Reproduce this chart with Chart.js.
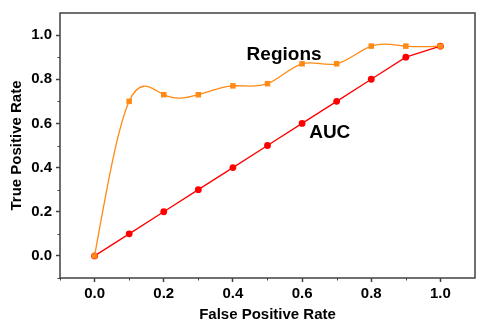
<!DOCTYPE html>
<html><head><meta charset="utf-8">
<script src="https://cdn.jsdelivr.net/npm/chart.js@4/dist/chart.umd.min.js"></script>
<style>html,body{margin:0;padding:0;background:#fff}#wrap{width:480px;height:332px;position:relative}</style>
</head><body><div id="wrap"><canvas id="c" width="480" height="332"></canvas></div>
<script>
// ---- data ----
const fpr = [0.0, 0.1, 0.2, 0.3, 0.4, 0.5, 0.6, 0.7, 0.8, 0.9, 1.0];
const aucTpr = [0.0, 0.1, 0.2, 0.3, 0.4, 0.5, 0.6, 0.7, 0.8, 0.9, 0.95];
const regionsTpr = [0.0, 0.70, 0.73, 0.73, 0.77, 0.78, 0.87, 0.87, 0.95, 0.95, 0.95];
const seriesNames = ['Regions', 'AUC'];
const xMajorTicks = [0.0, 0.2, 0.4, 0.6, 0.8, 1.0];
const yMajorTicks = [0.0, 0.2, 0.4, 0.6, 0.8, 1.0];
const minorTicks = [-0.1, 0.1, 0.3, 0.5, 0.7, 0.9];
const xTitle = 'False Positive Rate';
const yTitle = 'True Positive Rate';

// ---- styling / layout ----
const FONT = "'Liberation Sans', Arial, sans-serif";
const ORANGE = '#FF8A14';
const RED = '#FF0000';
const FRAME = '#404040';
const labelAnchors = [{x: 0.548, y: 0.888}, {x: 0.68, y: 0.533}];

const splinePlugin = {
  id: 'naturalSpline',
  beforeDatasetDraw(chart, args) {
    const ds = chart.data.datasets[args.index];
    if (!ds.naturalSpline) return;
    const pts = args.meta.data.map(p => ({x: p.x, y: p.y}));
    const n = pts.length;
    const h = [], M = new Array(n).fill(0);
    for (let i = 0; i < n - 1; i++) h[i] = pts[i + 1].x - pts[i].x;
    const a = [], b = [], c = [], d = [], cp = [], dp = [];
    for (let i = 1; i < n - 1; i++) {
      a[i] = h[i - 1]; b[i] = 2 * (h[i - 1] + h[i]); c[i] = h[i];
      d[i] = 6 * ((pts[i + 1].y - pts[i].y) / h[i] - (pts[i].y - pts[i - 1].y) / h[i - 1]);
    }
    for (let i = 1; i < n - 1; i++) {
      const m = b[i] - (i > 1 ? a[i] * cp[i - 1] : 0);
      cp[i] = c[i] / m;
      dp[i] = (d[i] - (i > 1 ? a[i] * dp[i - 1] : 0)) / m;
    }
    for (let i = n - 2; i >= 1; i--) M[i] = dp[i] - (i < n - 2 ? cp[i] * M[i + 1] : 0);
    const ctx = chart.ctx;
    ctx.save();
    ctx.strokeStyle = ds.borderColor;
    ctx.lineWidth = ds.borderWidth;
    ctx.lineJoin = 'round';
    ctx.beginPath();
    ctx.moveTo(pts[0].x, pts[0].y);
    for (let i = 0; i < n - 1; i++) {
      const hh = h[i];
      const sl = (pts[i + 1].y - pts[i].y) / hh;
      const m0 = sl - hh * (2 * M[i] + M[i + 1]) / 6;
      const m1 = sl + hh * (M[i] + 2 * M[i + 1]) / 6;
      ctx.bezierCurveTo(pts[i].x + hh / 3, pts[i].y + m0 * hh / 3,
                        pts[i + 1].x - hh / 3, pts[i + 1].y - m1 * hh / 3,
                        pts[i + 1].x, pts[i + 1].y);
    }
    ctx.stroke();
    ctx.restore();
  }
};

const framePlugin = {
  id: 'frame',
  beforeDatasetsDraw(chart) {
    const {ctx, chartArea: ca, scales} = chart;
    ctx.save();
    ctx.strokeStyle = FRAME;
    ctx.lineWidth = 1.5;
    ctx.strokeRect(ca.left, ca.top, ca.right - ca.left, ca.bottom - ca.top);
    ctx.lineWidth = 1;
    ctx.beginPath();
    minorTicks.forEach(v => {
      const px = Math.round(scales.x.getPixelForValue(v)) + 0.5;
      ctx.moveTo(px, ca.bottom); ctx.lineTo(px, ca.bottom + 2.5);
      const py = Math.round(scales.y.getPixelForValue(v)) + 0.5;
      ctx.moveTo(ca.left, py); ctx.lineTo(ca.left - 2.5, py);
    });
    ctx.stroke();
    ctx.restore();
  },
  afterDatasetsDraw(chart) {
    const {ctx, scales} = chart;
    ctx.save();
    ctx.fillStyle = '#000';
    ctx.font = "bold 19px " + FONT;
    ctx.textAlign = 'center';
    ctx.textBaseline = 'alphabetic';
    seriesNames.forEach((t, i) => {
      ctx.fillText(t, scales.x.getPixelForValue(labelAnchors[i].x), scales.y.getPixelForValue(labelAnchors[i].y));
    });
    ctx.restore();
  }
};

const tickFont = {family: FONT, weight: 'bold', size: 15};

new Chart(document.getElementById('c'), {
  type: 'line',
  data: {
    datasets: [
      {
        label: seriesNames[0],
        data: fpr.map((x, i) => ({x, y: regionsTpr[i]})),
        borderColor: ORANGE, backgroundColor: ORANGE, borderWidth: 1.3,
        showLine: false, naturalSpline: true,
        pointStyle: 'rect', pointRadius: 3.9, pointBorderWidth: 0
      },
      {
        label: seriesNames[1],
        data: fpr.map((x, i) => ({x, y: aucTpr[i]})),
        borderColor: RED, backgroundColor: RED, borderWidth: 1.3,
        tension: 0, pointStyle: 'circle', pointRadius: 3.4, pointBorderWidth: 0
      }
    ]
  },
  options: {
    responsive: false, animation: false, devicePixelRatio: 1,
    layout: {padding: {top: 11, right: 5, left: 0, bottom: 0}},
    plugins: {legend: {display: false}, tooltip: {enabled: false}},
    scales: {
      x: {
        type: 'linear', min: -0.1, max: 1.1,
        afterBuildTicks: s => { s.ticks = xMajorTicks.map(v => ({value: v})); },
        afterFit: s => { s.height = 54; },
        ticks: {callback: v => Number(v).toFixed(1), font: tickFont, color: '#000', padding: 3, maxRotation: 0, autoSkip: false},
        grid: {drawOnChartArea: false, drawTicks: true, tickLength: 4, tickColor: FRAME, tickWidth: 1.5},
        border: {display: false},
        title: {display: true, text: xTitle, font: tickFont, color: '#000', padding: {top: 0, bottom: 8}}
      },
      y: {
        type: 'linear', min: -0.1, max: 1.1,
        afterBuildTicks: s => { s.ticks = yMajorTicks.map(v => ({value: v})); },
        afterFit: s => { s.width = 60; },
        ticks: {callback: v => Number(v).toFixed(1), font: tickFont, color: '#000', padding: 4, autoSkip: false},
        grid: {drawOnChartArea: false, drawTicks: true, tickLength: 4, tickColor: FRAME, tickWidth: 1.5},
        border: {display: false},
        title: {display: true, text: yTitle, font: tickFont, color: '#000', padding: {top: 7.5, bottom: 0}}
      }
    }
  },
  plugins: [splinePlugin, framePlugin]
});
</script>
</body></html>
